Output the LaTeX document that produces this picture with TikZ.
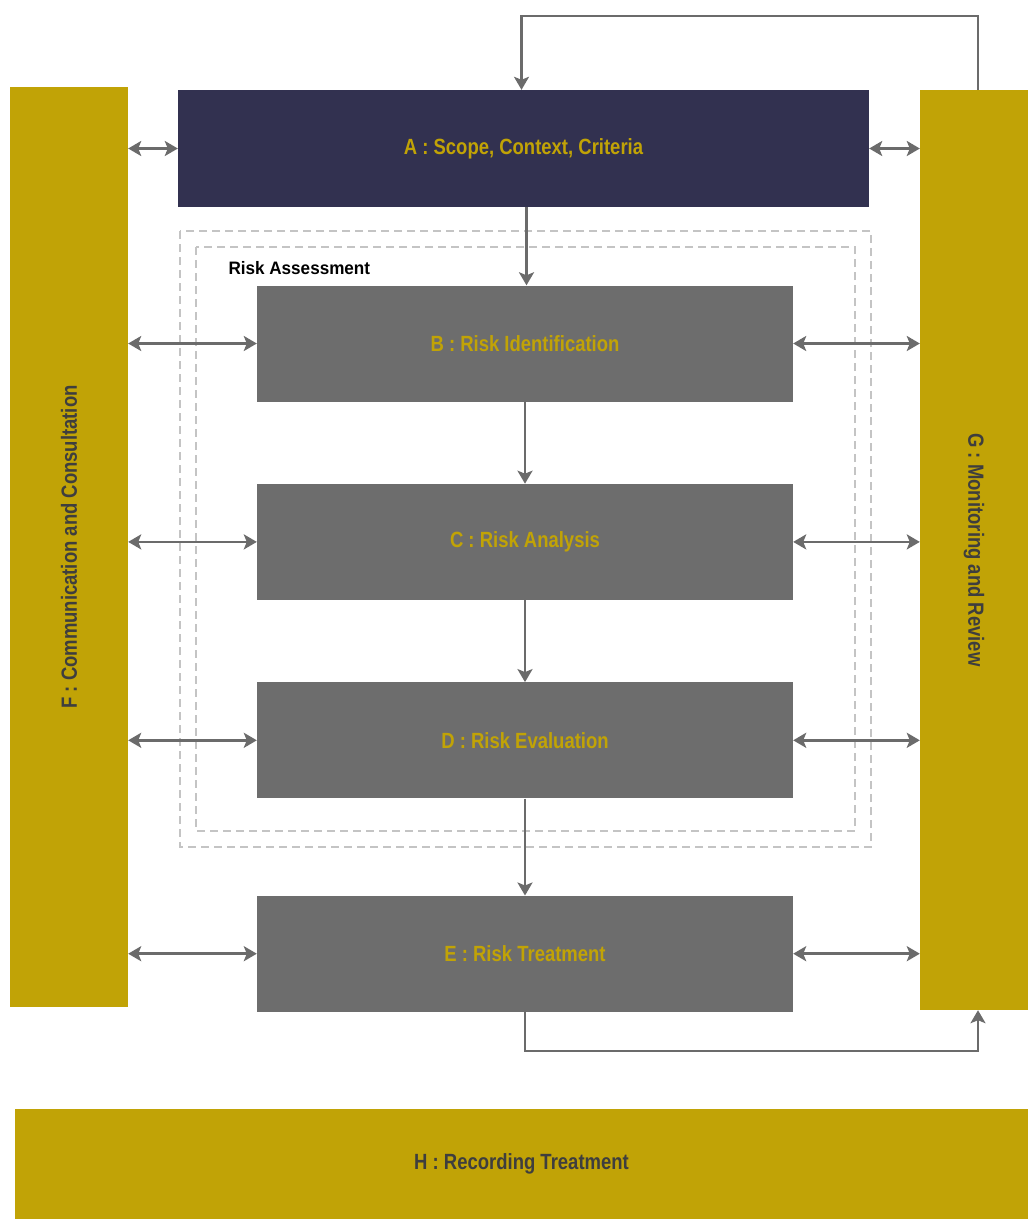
\documentclass[tikz,border=0pt]{standalone}
\usepackage{fontspec}
\setmainfont[FakeStretch=0.84]{Liberation Sans}
\newfontfamily\labelfont[FakeStretch=0.95]{Liberation Sans}
\usetikzlibrary{arrows.meta,positioning,calc}
\definecolor{gold}{RGB}{193,163,6}
\definecolor{navy}{RGB}{50,49,80}
\definecolor{slate}{RGB}{109,109,109}
\definecolor{ink}{RGB}{62,62,62}
\definecolor{wire}{RGB}{107,107,107}
\definecolor{frameline}{RGB}{196,196,196}
\tikzset{
  tip/.tip={Stealth[length=13pt,width=15pt,inset=3pt]},
  arr/.style={-tip,line width=2.6pt,draw=wire},
  biarr/.style={tip-tip,line width=2.8pt,draw=wire},
  backarr/.style={-tip,line width=2.2pt,draw=wire},
  txt/.style={font=\bfseries\fontsize{22}{26}\selectfont},
  stage/.style={txt,fill=slate,minimum width=536pt,minimum height=116pt,text=gold,inner sep=0pt},
  scopebox/.style={txt,fill=navy,minimum width=691pt,minimum height=117pt,text=gold,inner sep=0pt},
  sidebar/.style={txt,fill=gold,text=ink,inner sep=0pt},
  frame/.style={draw=frameline,dash pattern=on 8pt off 5pt,line width=1.2pt}
}
\begin{document}
\begin{tikzpicture}[x=1pt,y=-1pt]
  \useasboundingbox[fill=white] (0,0) rectangle (1028,1219);
  % assessment frames
  \draw[frame] (180,231) rectangle (871,847);
  \draw[frame] (196,247) rectangle (855,831);
  \node[anchor=west,font=\labelfont\bfseries\fontsize{18}{21}\selectfont] (ra) at (225,268) {Risk Assessment};
  % main chain
  \node[scopebox] (A) at (523.5,148.5) {A : Scope, Context, Criteria};
  \node[stage] (B) at (525,343.5) {B : Risk Identification};
  \node[stage,below=82pt of B] (C) {C : Risk Analysis};
  \node[stage,below=82pt of C] (D) {D : Risk Evaluation};
  \node[stage,below=97pt of D] (E) {E : Risk Treatment};
  % side bars
  \node[sidebar,minimum width=118pt,minimum height=920pt] (F) at (69,547)
    {\rotatebox{90}{F : Communication and Consultation}};
  \node[sidebar,minimum width=108pt,minimum height=920pt] (G) at (974,550)
    {\rotatebox{-90}{G : Monitoring and Review}};
  \node[sidebar,minimum width=1013pt,minimum height=110pt] (H) at (521.5,1164) {H : Recording Treatment};
  % flow
  \draw[arr] ([xshift=3pt]A.south) -- ([xshift=3pt]A.south |- B.north);
  \draw[arr] (B) -- (C);
  \draw[arr] (C) -- (D);
  \draw[arr] (D) -- (E);
  \foreach \n in {A,B,C,D,E} {
    \draw[biarr] (F.east |- \n.west) -- (\n.west);
    \draw[biarr] (\n.east) -- (G.west |- \n.east);
  }
  % feedback
  \draw[backarr] ([xshift=4pt]G.north) -- ++(0,-74) -| ([xshift=-2pt]A.north);
  \draw[backarr] (E.south) -- ++(0,39) -| ([xshift=4pt]G.south);
\end{tikzpicture}
\end{document}
